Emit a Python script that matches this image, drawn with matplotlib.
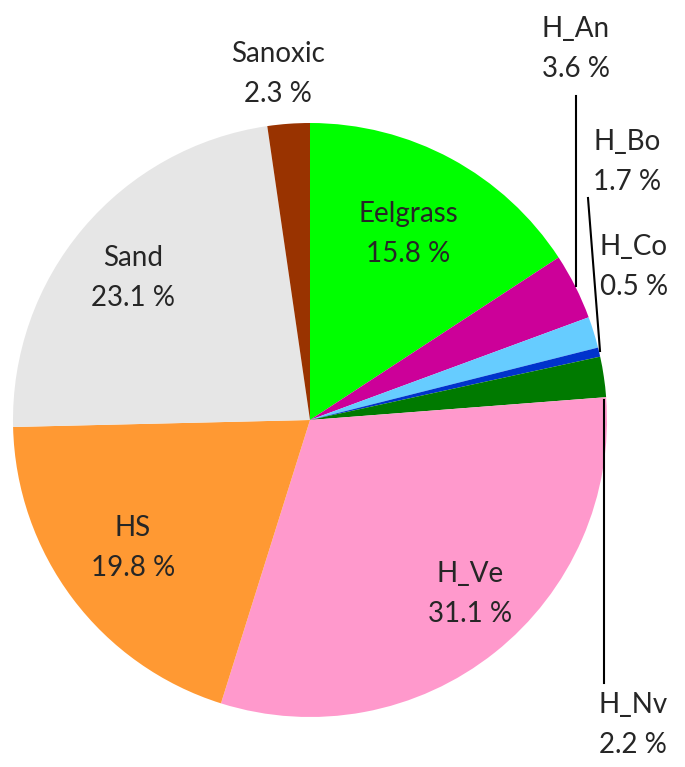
import matplotlib.pyplot as plt

labels = ['Eelgrass', 'H_An', 'H_Bo', 'H_Co', 'H_Nv', 'H_Ve', 'HS', 'Sand', 'Sanoxic']
values = [15.8, 3.6, 1.7, 0.5, 2.2, 31.1, 19.8, 23.1, 2.3]
colors = ['#00ff00', '#cc0099', '#66ccff', '#0033cc', '#007a00',
          '#ff99cc', '#ff9933', '#e6e6e6', '#993300']

# label positions in pixels (x, y from top)
label_pos = {
    'Eelgrass': (408, 234), 'H_An': (576, 49), 'H_Bo': (627, 162),
    'H_Co': (634, 267), 'H_Nv': (633, 725), 'H_Ve': (470, 594),
    'HS': (133, 548), 'Sand': (133, 278), 'Sanoxic': (278, 74),
}
# leader lines (x0, y0, x1, y1) in pixels
leaders = {
    'H_An': (576, 96, 576, 286),
    'H_Bo': (588, 198, 600, 351),
    'H_Nv': (604, 400, 604, 683),
}

W, H = 685, 767
fig = plt.figure(figsize=(W / 100, H / 100), dpi=100)
ax = fig.add_axes([0, 0, 1, 1])

ax.pie(values, colors=colors, startangle=90, counterclock=False,
       center=(310, H - 420), radius=297, frame=True,
       wedgeprops=dict(linewidth=0))
ax.set_xlim(0, W)
ax.set_ylim(0, H)
ax.axis('off')

for lab, v in zip(labels, values):
    x, y = label_pos[lab]
    ax.text(x, H - y, f'{lab}\n{v} %', ha='center', va='center',
            fontsize=20, color='#262626', family=['Lato', 'DejaVu Sans'],
            linespacing=1.7)

for lab, (x0, y0, x1, y1) in leaders.items():
    ax.plot([x0, x1], [H - y0, H - y1], color='black', lw=1.5)

fig.savefig('out.png', dpi=100)
